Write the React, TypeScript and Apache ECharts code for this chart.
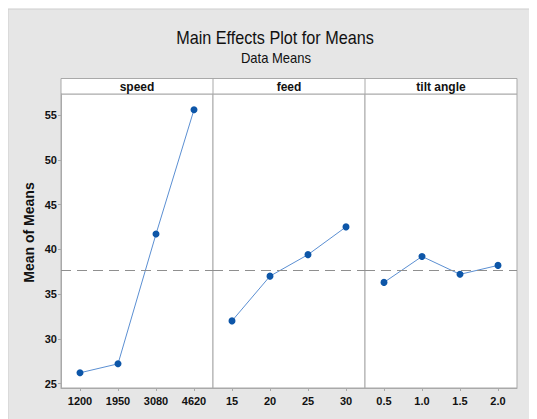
import React, { useEffect, useRef } from "react";
import * as echarts from "echarts";

const panelTitles = ["speed", "feed", "tilt angle"];
const speedLevels = ["1200", "1950", "3080", "4620"];
const feedLevels = ["15", "20", "25", "30"];
const tiltLevels = ["0.5", "1.0", "1.5", "2.0"];
const speedMeans = [26.2, 27.2, 41.7, 55.6];
const feedMeans = [32.0, 37.0, 39.4, 42.5];
const tiltMeans = [36.3, 39.2, 37.2, 38.2];
const grandMean = 37.7;
const yTicks = [25, 30, 35, 40, 45, 50, 55];
const yMin = 24.5;
const yMax = 57.35;

const FONT = "'Liberation Sans', Arial, sans-serif";

export default function App() {
  const ref = useRef<HTMLDivElement>(null);
  useEffect(() => {
    if (!ref.current) return;
    const chart = echarts.init(ref.current, undefined, { renderer: "svg" });
    const levels = [speedLevels, feedLevels, tiltLevels];
    const values = [speedMeans, feedMeans, tiltMeans];
    const left = 53;
    const pw = 152;
    const top = 86;
    const ph = 294;
    const border = "#a9a9a9";
    const grids = levels.map((_, i) => ({
      left: left + i * pw,
      top,
      width: pw,
      height: ph,
      show: true,
      backgroundColor: "#ffffff",
      borderColor: border,
      borderWidth: 1,
    }));
    const xAxes = levels.map((lv, i) => ({
      type: "category",
      gridIndex: i,
      data: lv,
      boundaryGap: true,
      axisLine: { show: true, lineStyle: { color: border } },
      axisTick: { show: true, alignWithLabel: true, length: 3, lineStyle: { color: border } },
      axisLabel: { color: "#111", fontFamily: FONT, fontWeight: "bold", fontSize: 11, margin: 7 },
      splitLine: { show: false },
    }));
    const yAxes = levels.map((_, i) => ({
      type: "value",
      gridIndex: i,
      min: yMin,
      max: yMax,
      axisLine: { show: i === 0, lineStyle: { color: border } },
      axisTick: { show: i === 0, length: 3, customValues: yTicks, lineStyle: { color: border } },
      axisLabel: { show: i === 0, customValues: yTicks, color: "#111", fontFamily: FONT, fontWeight: "bold", fontSize: 11, margin: 4 },
      splitLine: { show: false },
    }));
    const series = values.map((v, i) => ({
      type: "line",
      xAxisIndex: i,
      yAxisIndex: i,
      data: v,
      symbol: "circle",
      symbolSize: 7,
      itemStyle: { color: "#0d56a8" },
      lineStyle: { color: "#5b8fd2", width: 1 },
      markLine: {
        silent: true,
        symbol: "none",
        label: { show: false },
        lineStyle: { color: "#8f8f8f", type: [10, 6], width: 1 },
        data: [{ yAxis: grandMean }],
      },
    }));
    const headerTop = 70.5;
    const headerH = top - headerTop;
    const graphic: any[] = [
      { type: "rect", z: -10, shape: { x: 0, y: 1, width: 540, height: 420 }, style: { fill: "#e6e6e6", stroke: "#cdcdcd", lineWidth: 1 } },
      { type: "rect", shape: { x: left, y: headerTop, width: pw * 3, height: headerH }, style: { fill: "#fff", stroke: border, lineWidth: 1 } },
      { type: "line", shape: { x1: left + pw, y1: headerTop, x2: left + pw, y2: top }, style: { stroke: border, lineWidth: 1 } },
      { type: "line", shape: { x1: left + 2 * pw, y1: headerTop, x2: left + 2 * pw, y2: top }, style: { stroke: border, lineWidth: 1 } },
      { type: "text", x: 267, y: 30.5, scaleX: 0.9, style: { text: "Main Effects Plot for Means", font: `18px ${FONT}`, fill: "#111", textAlign: "center", textVerticalAlign: "middle" } },
      { type: "text", x: 268, y: 50.7, scaleX: 0.93, style: { text: "Data Means", font: `14px ${FONT}`, fill: "#111", textAlign: "center", textVerticalAlign: "middle" } },
      { type: "text", x: 21, y: 224.5, rotation: Math.PI / 2, style: { text: "Mean of Means", font: `bold 14px ${FONT}`, fill: "#111", textAlign: "center", textVerticalAlign: "middle" } },
    ];
    panelTitles.forEach((t, i) => {
      graphic.push({ type: "text", x: left + pw * i + pw / 2, y: headerTop + headerH / 2 + 0.5, style: { text: t, font: `bold 12px ${FONT}`, fill: "#111", textAlign: "center", textVerticalAlign: "middle" } });
    });
    chart.setOption({
      animation: false,
      backgroundColor: "transparent",
      grid: grids,
      xAxis: xAxes,
      yAxis: yAxes,
      series,
      graphic,
    });
    return () => chart.dispose();
  }, []);
  return <div ref={ref} style={{ width: 529, height: 411 }} />;
}
